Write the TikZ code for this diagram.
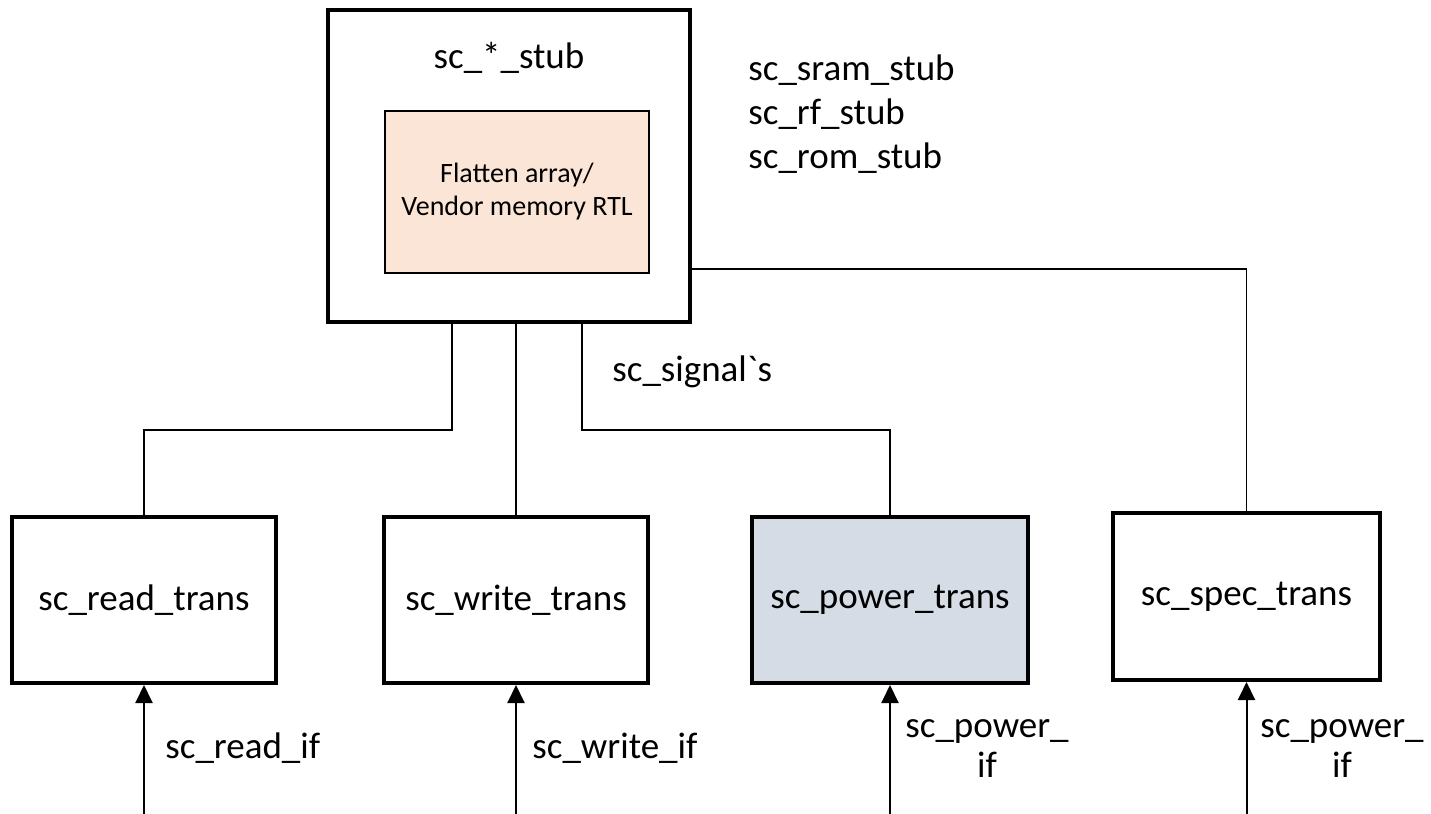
\documentclass[tikz,border=0pt]{standalone}
\usepackage{fontspec}
\setmainfont{Carlito}
\usepackage{tikz}
\usetikzlibrary{
  arrows.meta
}
\definecolor{MemTint}{HTML}{FBE5D6}
\definecolor{PowerTint}{HTML}{D6DCE5}
\tikzset{
  blk/.style={
    draw=black,
    line width=2pt,
    fill=white,
    align=center,
    inner sep=0pt,
    font=\fontsize{18.5pt}{20pt}\selectfont
  },
  powerblk/.style={blk,fill=PowerTint},
  memblk/.style={
    draw=black,
    line width=0.8pt,
    fill=MemTint,
    align=center,
    inner sep=0pt,
    font=\fontsize{14pt}{16.5pt}\selectfont
  },
  txt/.style={inner sep=0pt,align=left,font=\fontsize{18.5pt}{22pt}\selectfont},
  wire/.style={line width=0.75pt,draw=black},
  sigarrow/.style={-{Triangle[length=9pt,width=8.5pt]},line width=1pt,draw=black}
}

\begin{document}
\begin{tikzpicture}[x=0.5pt,y=-0.5pt]
  \useasboundingbox (0,0) rectangle (1431,814);

  % memory stub with the vendor RTL inside
  \node[blk, minimum width=181pt, minimum height=156pt] (stub) at (509,166) {};
  \node[txt] (stubname) at (509,58) {sc\_*\_stub};
  \node[memblk, minimum width=132pt, minimum height=81pt] (mem) at (517,192) {Flatten array/\\Vendor memory RTL};
  \node[txt, anchor=west] (stublist) at (748,114) {sc\_sram\_stub\\sc\_rf\_stub\\sc\_rom\_stub};

  % transactors
  \node[blk, minimum width=132pt, minimum height=83pt] (read) at (144,600) {sc\_read\_trans};
  \node[blk, minimum width=132pt, minimum height=83pt] (write) at (516,600) {sc\_write\_trans};
  \node[powerblk, minimum width=138pt, minimum height=83pt] (power) at (890,600) {sc\_power\_trans};
  \node[blk, minimum width=133.5pt, minimum height=83.5pt] (spec) at (1246.5,596.5) {sc\_spec\_trans};

  % sc_signal wiring
  \coordinate (tapL) at (452,430);
  \coordinate (tapR) at (582,430);
  \coordinate (tapE) at (690,269);
  \draw[wire] (stub.south -| tapL) -- (tapL) -| (read.north);
  \draw[wire] (stub.south -| write.north) -- (write.north);
  \draw[wire] (stub.south -| tapR) -- (tapR) -| (power.north);
  \draw[wire] (tapE) -| (spec.north);
  \node[txt, anchor=west] (siglbl) at (612,372) {sc\_signal\textasciigrave s};

  % interface inputs
  \coordinate (edge) at (0,814);
  \foreach \t in {read,write,power,spec}
    \draw[sigarrow] (\t.south |- edge) -- (\t.south);
  \node[txt, anchor=west] (readif) at (165,748) {sc\_read\_if};
  \node[txt, anchor=west] (writeif) at (532,748) {sc\_write\_if};
  \node[txt, anchor=west, align=center, font=\fontsize{18.5pt}{20pt}\selectfont] (powerif) at (905,749) {sc\_power\_\\if};
  \node[txt, anchor=west, align=center, font=\fontsize{18.5pt}{20pt}\selectfont] (specif) at (1260,749) {sc\_power\_\\if};
\end{tikzpicture}
\end{document}
